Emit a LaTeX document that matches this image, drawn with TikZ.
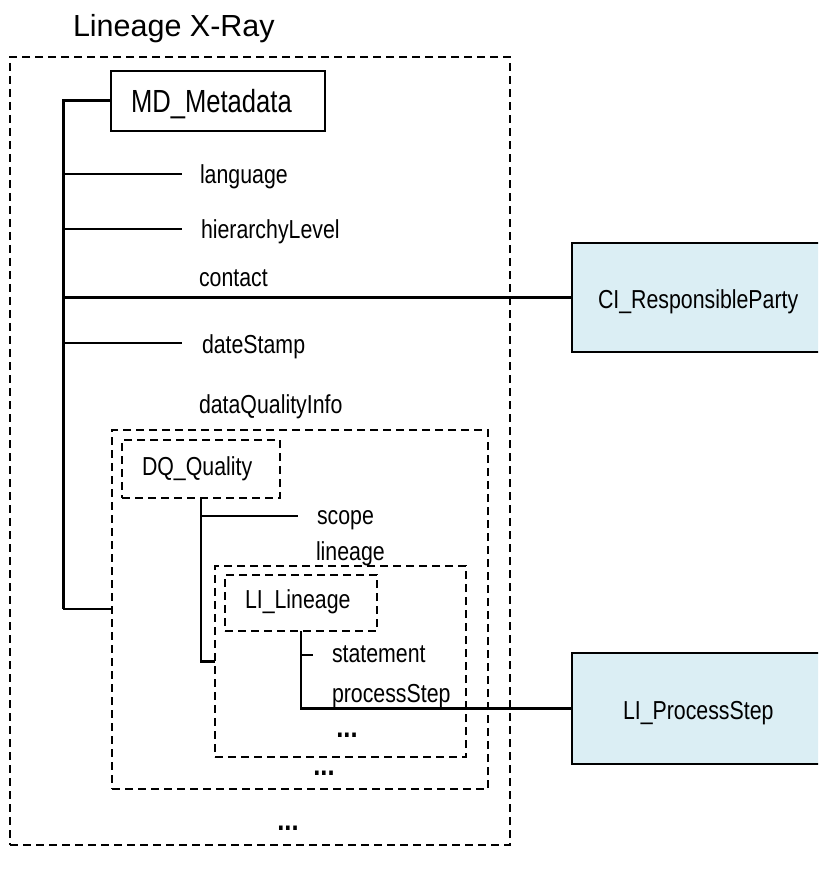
\documentclass[tikz,border=0pt]{standalone}
\usepackage{fontspec}
\setmainfont{Liberation Sans}[FakeStretch=0.82]
\newfontfamily\titlefont{Liberation Sans}
\newfontfamily\wideMD{Liberation Sans}[FakeStretch=0.8]
\newfontfamily\dotsfont{Liberation Sans Bold}[FakeStretch=0.85]
\definecolor{partyblue}{RGB}{219,238,244}
\begin{document}
\begin{tikzpicture}[x=1pt,y=-1pt,
  every node/.style={inner sep=0pt, outer sep=0pt},
  lbl/.style={anchor=base west, font=\fontsize{26}{30}\selectfont},
  dotlbl/.style={anchor=base, font=\dotsfont\fontsize{30}{34}\selectfont},
  container/.style={draw, line width=2pt, dash pattern=on 8pt off 5pt},
  classbox/.style={anchor=west, align=left, text depth=0pt,
    font=\fontsize{26}{30}\selectfont},
  dashclass/.style={classbox, draw, line width=2pt, dash pattern=on 8pt off 5pt},
  solidclass/.style={classbox, draw, line width=2.2pt},
  extclass/.style={classbox, draw, line width=2.4pt, fill=partyblue},
  branch/.style={line width=2.1pt},
  trunk/.style={line width=3pt},
]
\useasboundingbox (0,0) rectangle (818,874);
\clip (0,0) rectangle (818,874);

% title
\node[anchor=base west, font=\titlefont\fontsize{30.5}{36}\selectfont] (title) at (73,37) {Lineage X-Ray};

% nested containers
\node[container, minimum width=500pt, minimum height=788pt] (outer) at (260,451) {};
\node[container, minimum width=376pt, minimum height=359pt] (dqi) at (300,609.5) {};
\node[container, minimum width=251pt, minimum height=191pt] (lio) at (340.5,661.5) {};

% class boxes
\node[solidclass, inner xsep=20pt, text width=174pt, minimum height=60pt, text height=24pt,
      font=\wideMD\fontsize{32}{36}\selectfont] (md) at (111,101) {MD\_Metadata};
\node[dashclass, inner xsep=20pt, text width=118pt, minimum height=58pt, text height=12pt] (dqq) at (122,469) {DQ\_Quality};
\node[dashclass, inner xsep=20pt, text width=112pt, minimum height=56pt, text height=10pt] (lil) at (225,603) {LI\_Lineage};
\node[extclass, inner xsep=26pt, text width=300pt, minimum height=109pt, text height=21pt] (ci) at (572,297.5) {CI\_ResponsibleParty};
\node[extclass, inner xsep=51pt, text width=250pt, minimum height=111pt, text height=21pt] (ps) at (572,708.5) {LI\_ProcessStep};

% property labels
\node[lbl] (language) at (200,184) {language};
\node[lbl] (hlevel) at (201,239) {hierarchyLevel};
\node[lbl] (contact) at (199,287) {contact};
\node[lbl] (datestamp) at (202,353) {dateStamp};
\node[lbl] (dqinfo) at (199,413) {dataQualityInfo};
\node[lbl] (scope) at (317,524) {scope};
\node[lbl] (lineage) at (316,560) {lineage};
\node[lbl] (statement) at (332,662) {statement};
\node[lbl] (pstep) at (332,702) {processStep};

% ellipses
\node[dotlbl] (more3) at (347,737.5) {...};
\node[dotlbl] (more2) at (324,775.5) {...};
\node[dotlbl] (more1) at (288,830.5) {...};

% MD_Metadata trunk
\coordinate (ttop) at (63,101);
\coordinate (tbot) at (63,609);
\draw[trunk] (md.west) -- (ttop) -- (tbot);
\draw[branch] (tbot) -- (tbot -| dqi.west);

\coordinate (langend) at (182,174);
\coordinate (hlevelend) at (182,229);
\coordinate (dateend) at (182,343);
\draw[branch] (langend -| ttop) -- (langend);
\draw[branch] (hlevelend -| ttop) -- (hlevelend);
\draw[branch] (dateend -| ttop) -- (dateend);
\draw[branch] (ttop |- ci.west) -- (ci.west);

% DQ_Quality branch
\draw[branch] (dqq.south) |- (lio.west);
\coordinate (scopeend) at (298,516);
\draw[branch] (scopeend -| dqq.south) -- (scopeend);

% LI_Lineage branch
\draw[branch] (lil.south) |- (ps.west);
\coordinate (stmtend) at (313,655);
\draw[branch] (stmtend -| lil.south) -- (stmtend);
\end{tikzpicture}
\end{document}
